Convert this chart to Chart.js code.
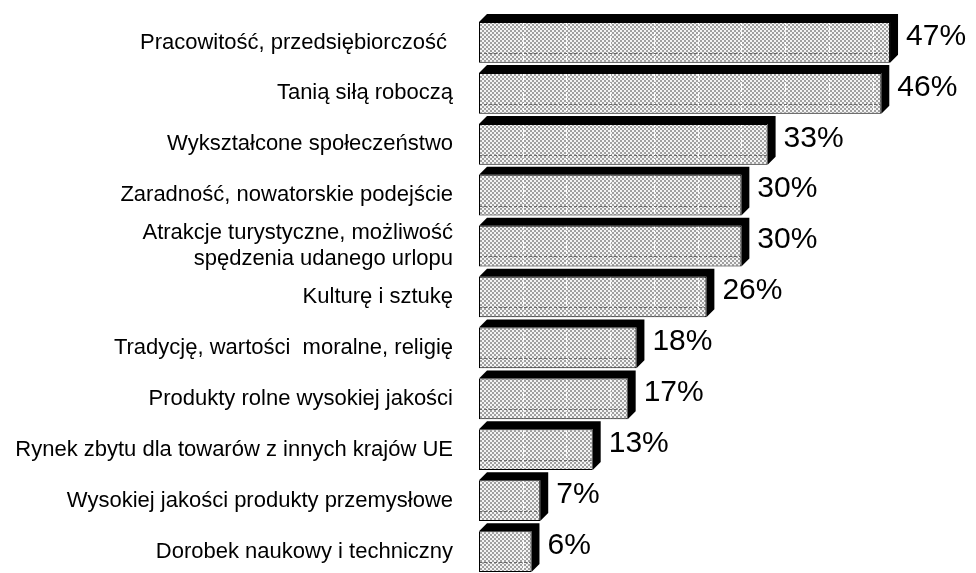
<!DOCTYPE html>
<html>
<head>
<meta charset="utf-8">
<script src="https://cdn.jsdelivr.net/npm/chart.js@4.4.0/dist/chart.umd.min.js"></script>
<style>
  html, body { margin: 0; padding: 0; background: #fff; overflow: hidden; }
  #wrap { width: 976px; height: 577px; }
</style>
</head>
<body>
<div id="wrap"><canvas id="chart" width="976" height="577"></canvas></div>
<script>
const categories = [
    'Pracowitość, przedsiębiorczość ',
    'Tanią siłą roboczą',
    'Wykształcone społeczeństwo',
    'Zaradność, nowatorskie podejście',
    ['Atrakcje turystyczne, możliwość', 'spędzenia udanego urlopu'],
    'Kulturę i sztukę',
    'Tradycję, wartości  moralne, religię',
    'Produkty rolne wysokiej jakości',
    'Rynek zbytu dla towarów z innych krajów UE',
    'Wysokiej jakości produkty przemysłowe',
    'Dorobek naukowy i techniczny'
];
const percentValues = [47, 46, 33, 30, 30, 26, 18, 17, 13, 7, 6];

const FONT = '"Liberation Sans", Arial, sans-serif';
const DEPTH = 8;

// checkered fill like the original
function makePattern() {
    const c = document.createElement('canvas');
    c.width = 4; c.height = 4;
    const g = c.getContext('2d');
    g.fillStyle = '#f4f4f4';
    g.fillRect(0, 0, 4, 4);
    g.fillStyle = '#a0a0a0';
    g.fillRect(0, 0, 2, 2);
    g.fillRect(2, 2, 2, 2);
    return g.createPattern(c, 'repeat');
}

const bar3d = {
    id: 'bar3d',
    afterDatasetsDraw(chart) {
        const ctx = chart.ctx;
        const xScale = chart.scales.x;
        const meta = chart.getDatasetMeta(0);
        meta.data.forEach((bar, i) => {
            const {x, y, base, height} = bar.getProps(['x', 'y', 'base', 'height'], true);
            const top = y - height / 2;
            const bottom = y + height / 2;

            // faint lines inside the front face
            ctx.save();
            ctx.beginPath();
            ctx.rect(base + 1, top + 1, x - base - 2, height - 2);
            ctx.clip();
            ctx.lineWidth = 1;
            ctx.setLineDash([3, 2]);
            ctx.strokeStyle = '#ffffff';
            xScale.ticks.forEach(t => {
                const px = Math.round(xScale.getPixelForValue(t.value)) + 0.5;
                if (px <= base + 2) return;
                ctx.beginPath();
                ctx.moveTo(px, top);
                ctx.lineTo(px, bottom);
                ctx.stroke();
            });
            ctx.strokeStyle = '#6a6a6a';
            ctx.beginPath();
            const hy = Math.round(bottom - 10) + 0.5;
            ctx.moveTo(base, hy);
            ctx.lineTo(x, hy);
            ctx.stroke();
            ctx.restore();

            // top and side faces
            ctx.save();
            ctx.fillStyle = '#000';
            ctx.beginPath();
            ctx.moveTo(base, top);
            ctx.lineTo(base + DEPTH, top - DEPTH);
            ctx.lineTo(x + DEPTH, top - DEPTH);
            ctx.lineTo(x + DEPTH, bottom - DEPTH);
            ctx.lineTo(x, bottom);
            ctx.lineTo(x, top);
            ctx.closePath();
            ctx.fill();

            ctx.font = '30px ' + FONT;
            ctx.textBaseline = 'middle';
            ctx.textAlign = 'left';
            ctx.fillText(percentValues[i] + '%', x + DEPTH + 8, y - 6);
            ctx.restore();
        });
    }
};

new Chart(document.getElementById('chart'), {
    type: 'bar',
    data: {
        labels: categories,
        datasets: [{
            data: percentValues,
            backgroundColor: makePattern(),
            borderColor: '#000',
            borderWidth: 1,
            borderSkipped: false,
            barPercentage: 0.8,
            categoryPercentage: 1
        }]
    },
    options: {
        indexAxis: 'y',
        responsive: false,
        animation: false,
        layout: { padding: { top: 17, right: 16, bottom: 0, left: 0 } },
        plugins: { legend: { display: false }, tooltip: { enabled: false } },
        scales: {
            x: {
                display: false,
                min: 0,
                max: 55,
                ticks: { stepSize: 5 }
            },
            y: {
                grid: { display: false, drawTicks: false },
                border: { display: false },
                ticks: {
                    color: '#000',
                    padding: 26,
                    autoSkip: false,
                    font: { family: FONT, size: 22 }
                },
                afterFit(scale) {
                    scale.width = 479;
                    scale.paddingTop = 0;
                    scale.paddingBottom = 0;
                }
            }
        }
    },
    plugins: [bar3d]
});
</script>
</body>
</html>
